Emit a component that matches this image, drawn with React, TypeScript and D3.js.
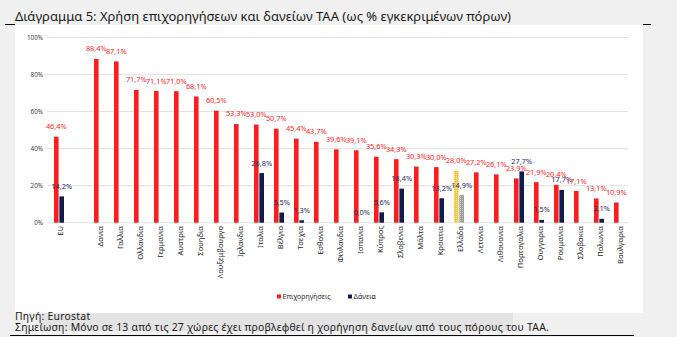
import * as d3 from 'd3'
import React from 'react'

const W = 677
const H = 337

// categories ('' = empty slot after EU)
const countries = [
  'EU', '', 'Δανια', 'Γαλλια', 'Ολλανδια', 'Γερμανια', 'Αυστρια', 'Σουηδια', 'Λουξεμβουργο',
  'Ιρλανδια', 'Ιταλια', 'Βέλγιο', 'Τσεχια', 'Εσθονια', 'Φινλανδια', 'Ισπανια', 'Κύπρος',
  'Σλοβενια', 'Μάλτα', 'Κροατια', 'Ελλάδα', 'Λετονια', 'Λιθουανια', 'Πορτογαλια',
  'Ουγγαρια', 'Ρουμανια', 'Σλοβακια', 'Πολωνια', 'Βουλγαρια',
]
const grants = [
  46.4, null, 88.4, 87.1, 71.7, 71.1, 71.0, 68.1, 60.5, 53.3, 53.0, 50.7, 45.4, 43.7, 39.6,
  39.1, 35.6, 34.3, 30.3, 30.0, 28.0, 27.2, 26.1, 23.9, 21.9, 20.4, 17.1, 13.1, 10.9,
]
const loans = [
  14.2, null, null, null, null, null, null, null, null, null, 26.8, 5.5, 1.3, null, null,
  0.0, 5.6, 18.4, null, 13.2, 14.9, null, null, 27.7, 1.5, 17.7, null, 2.1, null,
]
const yTicks = [0, 20, 40, 60, 80, 100]
const highlight = 'Ελλάδα'

const RED = '#ff1e1e'
const NAVY = '#111c4e'
const FONT = '"Noto Sans", sans-serif'

const fmt = (v: number) => d3.format('.1f')(v).replace('.', ',') + '%'

export default function App() {
  const x = d3
    .scaleBand<number>()
    .domain(countries.map((d, i) => i))
    .range([49, 629])
  const y = d3.scaleLinear().domain([0, 100]).range([222.7, 37.5])
  const cx = (i: number) => (x(i) as number) + x.bandwidth() / 2
  const bw = 4.6

  return (
    <svg width={W} height={H} style={{ position: 'absolute', left: 0, top: 0 }} fontFamily={FONT}>
      <defs>
        <pattern id="dotsY" width="2" height="2" patternUnits="userSpaceOnUse">
          <rect width="2" height="2" fill="#f6c640" />
          <rect width="1" height="1" fill="#fde9a8" />
        </pattern>
        <pattern id="dotsG" width="2" height="2" patternUnits="userSpaceOnUse">
          <rect width="2" height="2" fill="#9a9a9a" />
          <rect width="1" height="1" fill="#cfcfcf" />
        </pattern>
      </defs>
      <rect width={W} height={H} fill="#f0f0f0" />

      {/* title */}
      <text x={15} y={21} fontSize={13} fill="#1a1a1a">
        Διάγραμμα 5: Χρήση επιχορηγήσεων και δανείων ΤΑΑ (ως % εγκεκριμένων πόρων)
      </text>
      <line x1={5} x2={15} y1={24.5} y2={24.5} stroke="#000" strokeWidth={1} />
      <line x1={643} x2={651} y1={24.5} y2={24.5} stroke="#000" strokeWidth={1} />

      {/* chart panel */}
      <rect x={15} y={25} width={628} height={288} fill="#fff" />

      {/* grid + y labels */}
      {yTicks.map(t => (
        <g key={t}>
          <line x1={47} x2={628} y1={y(t)} y2={y(t)} stroke="#d9d9d9" strokeWidth={0.8} />
          <text x={43} y={y(t) + 2.3} fontSize={6.3} textAnchor="end" fill="#404040">
            {t}%
          </text>
        </g>
      ))}

      {/* bars */}
      {countries.map((c, i) => {
        const g = grants[i]
        const l = loans[i]
        const isHi = c === highlight
        return (
          <g key={i}>
            {g != null && (
              <rect
                x={cx(i) - bw - 0.4}
                y={y(g)}
                width={bw}
                height={y(0) - y(g)}
                fill={isHi ? 'url(#dotsY)' : RED}
              />
            )}
            {l != null && (
              <rect
                x={cx(i) + 0.4}
                y={y(l)}
                width={bw}
                height={y(0) - y(l)}
                fill={isHi ? 'url(#dotsG)' : NAVY}
              />
            )}
          </g>
        )
      })}

      {/* value labels */}
      {countries.map((c, i) => {
        const g = grants[i]
        const l = loans[i]
        return (
          <g key={'lab' + i} fontSize={7.4}>
            {g != null && (
              <text x={cx(i) - bw / 2 - 0.4} y={y(g) - 7.5} textAnchor="middle" fill={RED}>
                {fmt(g)}
              </text>
            )}
            {l != null && (
              <text x={cx(i) + bw / 2 + 0.4} y={y(l) - 7.5} textAnchor="middle" fill="#1f2a5c">
                {fmt(l)}
              </text>
            )}
          </g>
        )
      })}

      {/* x labels */}
      {countries.map((c, i) => (
        <text
          key={'x' + i}
          transform={`translate(${cx(i) + 1.4},226) rotate(-90)`}
          dy="0.35em"
          fontSize={7.6}
          textAnchor="end"
          fill="#262626"
        >
          {c}
        </text>
      ))}

      {/* legend */}
      <g fontSize={7} fill="#262626">
        <rect x={277} y={294.5} width={4} height={4} fill={RED} />
        <text x={282.5} y={299}>Επιχορηγήσεις</text>
        <rect x={348} y={294.5} width={4} height={4} fill={NAVY} />
        <text x={353.5} y={299}>Δάνεια</text>
      </g>

      {/* footer */}
      <rect x={40} y={313} width={473} height={18} fill="#e3e3e3" />
      <g fontSize={10.4} fill="#1a1a1a" letterSpacing={0.25}>
        <text x={15} y={320}>Πηγή: Eurostat</text>
        <text x={15} y={331}>
          Σημείωση: Μόνο σε 13 από τις 27 χώρες έχει προβλεφθεί η χορήγηση δανείων από τους πόρους του ΤΑΑ.
        </text>
      </g>
      <line x1={10} x2={634} y1={335.5} y2={335.5} stroke="#000" strokeWidth={1} />
    </svg>
  )
}
